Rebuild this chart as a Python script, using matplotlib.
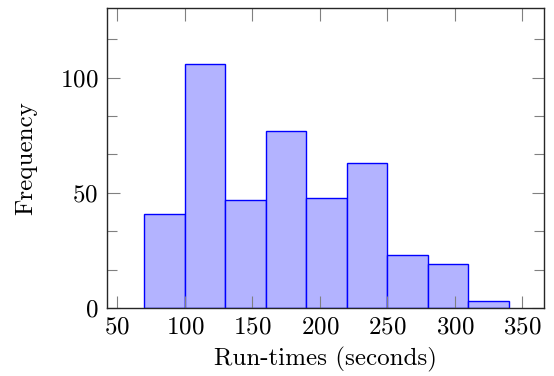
import numpy as np
import matplotlib
matplotlib.use("Agg")
import matplotlib.pyplot as plt
from matplotlib.ticker import MultipleLocator

# histogram of run-times, bins of 30 s from 70 to 340
bin_edges = [70, 100, 130, 160, 190, 220, 250, 280, 310, 340]
counts = [41, 106, 47, 77, 48, 63, 23, 19, 3]

plt.rcParams["font.family"] = "cmr10"
plt.rcParams["mathtext.fontset"] = "cm"
plt.rcParams["axes.formatter.use_mathtext"] = True

fig = plt.figure(figsize=(5.54, 3.76), dpi=100)
ax = fig.add_axes([0.1926, 0.18, 0.7894, 0.798])

widths = np.diff(bin_edges)
ax.bar(bin_edges[:-1], counts, width=widths, align="edge",
       color=(0.7, 0.7, 1.0), edgecolor="blue", linewidth=1.0)

ax.set_xlim(42, 366)
ax.set_ylim(0, 130)
ax.xaxis.set_major_locator(MultipleLocator(50))
ax.yaxis.set_major_locator(MultipleLocator(50))
ax.yaxis.set_minor_locator(MultipleLocator(50 / 3))

ax.tick_params(which="both", direction="in", top=True, right=True,
               color="0.5", labelsize=18)
ax.tick_params(which="major", length=9, width=0.8, pad=6)
ax.tick_params(which="minor", length=7, width=0.8)

for sp in ax.spines.values():
    sp.set_color("0.15")
    sp.set_linewidth(1.0)

ax.set_xlabel("Run-times (seconds)", fontsize=18, labelpad=6)
ax.set_ylabel("Frequency", fontsize=18, labelpad=16)

fig.savefig("out.png", dpi=100)
